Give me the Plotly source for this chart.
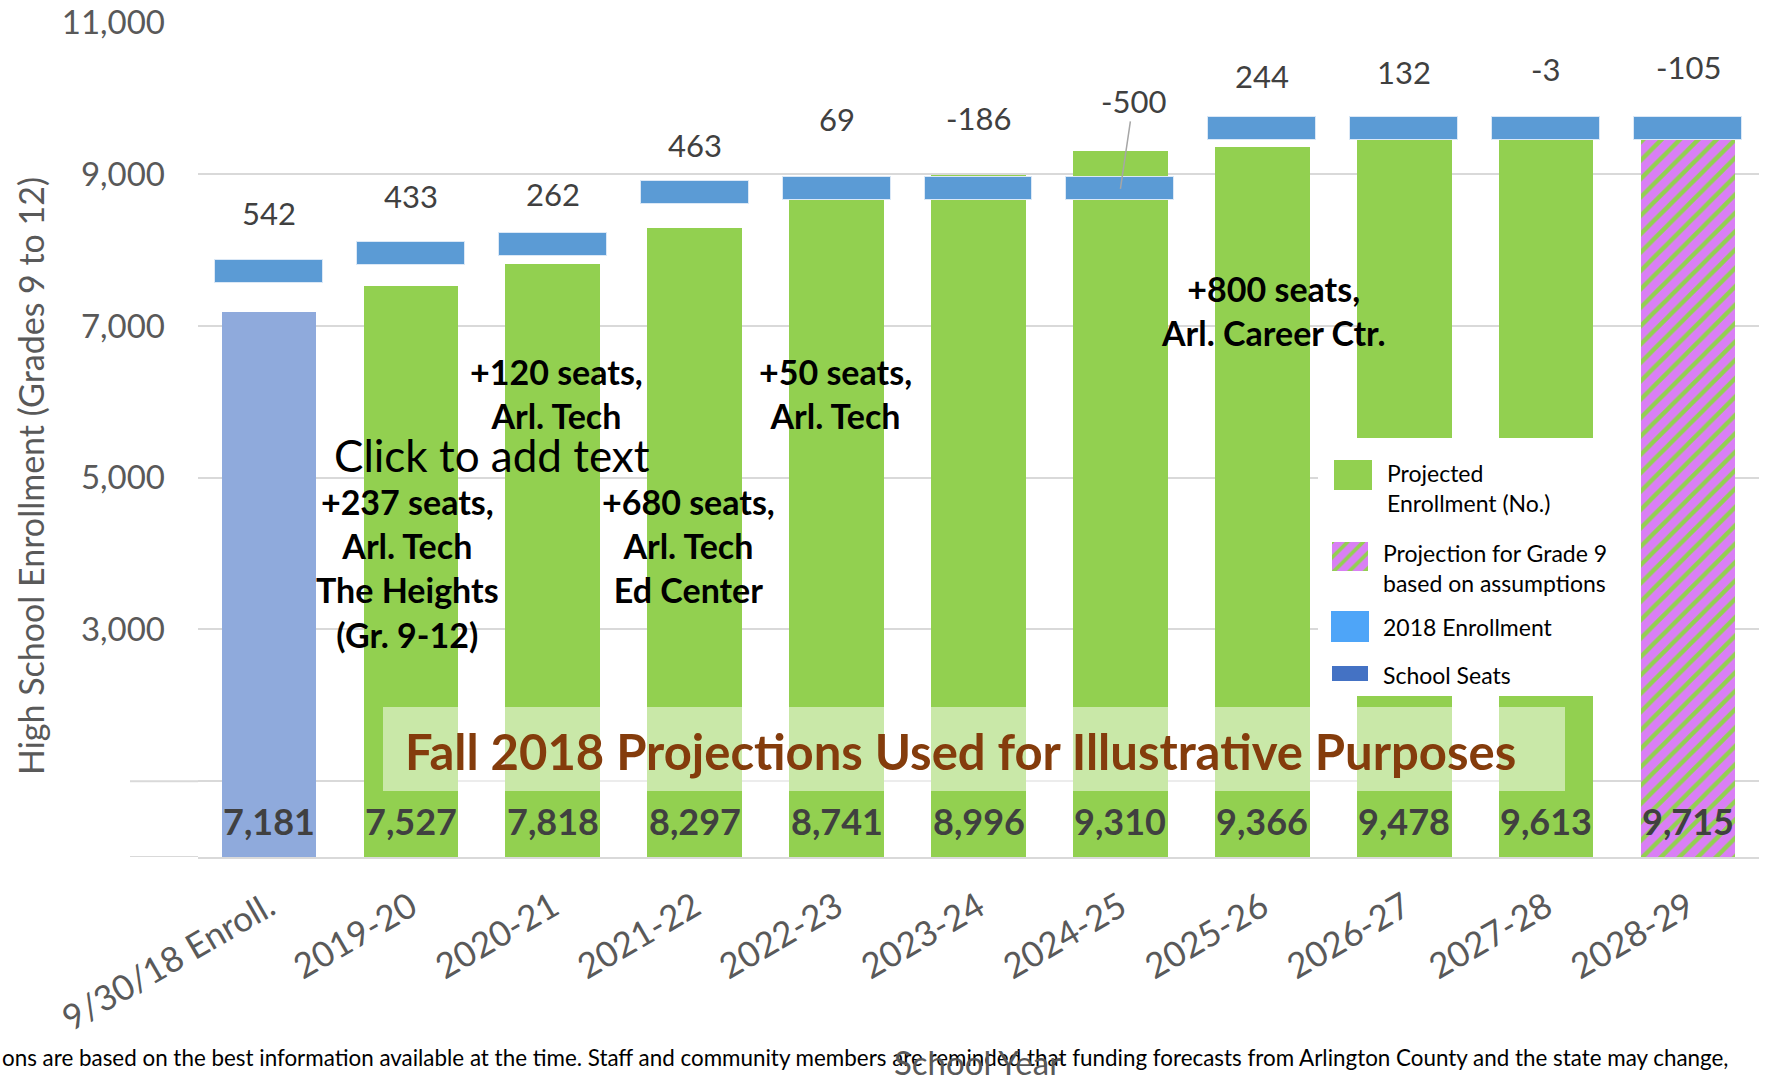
import plotly.graph_objects as go

# ---------------- data ----------------
categories = ["9/30/18 Enroll.", "2019-20", "2020-21", "2021-22", "2022-23", "2023-24",
              "2024-25", "2025-26", "2026-27", "2027-28", "2028-29"]
enrollment = [7181, 7527, 7818, 8297, 8741, 8996, 9310, 9366, 9478, 9613, 9715]
seat_gap = [542, 433, 262, 463, 69, -186, -500, 244, 132, -3, -105]
y_tick_vals = [1000, 3000, 5000, 7000, 9000, 11000]
y_tick_text = ["", "3,000", "5,000", "7,000", "9,000", "11,000"]

seats = [e + g for e, g in zip(enrollment, seat_gap)]

# ---------------- style ----------------
FONT = "Lato"
GREEN = "#92d050"
ENR_BLUE = "#8faadc"
SEAT_BLUE = "#5b9bd5"
PURPLE = "#d97ff5"
GRAY = "#595959"
DARK = "#404040"
GRID = "#d9d9d9"
SEAT_BAND = 300           # visual thickness of the seat marker bar (axis units)
label_shift = [58, 57, 50, 48, 70, 71, None, 52, 56, 59, 61]

W, H = 1765, 1076
ML, MR, MT, MB = 198, 6, 22, 219
PW = W - ML - MR
PH = H - MT - MB
PB = H - MB


def px(x):
    return (x - ML) / PW


def py(y):
    return (PB - y) / PH


fig = go.Figure()

# enrollment bars
fig.add_trace(go.Bar(x=categories[:1], y=enrollment[:1], width=0.667,
                     marker=dict(color=ENR_BLUE, line=dict(width=0)),
                     name="2018 Enrollment", showlegend=False))
fig.add_trace(go.Bar(x=categories[1:10], y=enrollment[1:10], width=0.667,
                     marker=dict(color=GREEN, line=dict(width=0)),
                     name="Projected Enrollment (No.)", showlegend=False))
fig.add_trace(go.Bar(x=categories[10:], y=enrollment[10:], width=0.667,
                     marker=dict(color=PURPLE, line=dict(width=0),
                                 pattern=dict(shape="/", fgcolor=GREEN, bgcolor=PURPLE,
                                              size=13, solidity=0.33, fillmode="replace")),
                     name="Projection for Grade 9 based on assumptions", showlegend=False))
# school seats markers
fig.add_trace(go.Bar(x=categories, y=[SEAT_BAND] * len(seats),
                     base=[s - SEAT_BAND / 2 for s in seats], width=0.76,
                     marker=dict(color=SEAT_BLUE, line=dict(color="#dbe8f6", width=1)),
                     name="School Seats", showlegend=False))

# white legend box (own overlay subplot so the hatched swatch can sit above it)
fig.add_trace(go.Bar(x=[0.5], y=[1], width=[1], xaxis="x2", yaxis="y2",
                     marker=dict(color="white", line=dict(width=0)),
                     showlegend=False, hoverinfo="skip"))
fig.add_trace(go.Bar(x=[0.5], y=[1], width=[1], xaxis="x3", yaxis="y3",
                     marker=dict(color=PURPLE, line=dict(width=0),
                                 pattern=dict(shape="/", fgcolor=GREEN, bgcolor=PURPLE,
                                              size=11, solidity=0.33, fillmode="replace")),
                     showlegend=False, hoverinfo="skip"))

annotations = []

# seat difference labels
for i, (c, s, g) in enumerate(zip(categories, seats, seat_gap)):
    if label_shift[i] is None:
        annotations.append(dict(x=c, y=s, xref="x", yref="y", text=str(g),
                                showarrow=True, arrowhead=0, arrowwidth=1.5,
                                arrowcolor="#a6a6a6", ax=13, ay=-88, standoff=0,
                                font=dict(family=FONT, size=31, color=DARK)))
    else:
        annotations.append(dict(x=c, y=s, xref="x", yref="y", text=str(g),
                                showarrow=False, yanchor="middle", yshift=label_shift[i],
                                font=dict(family=FONT, size=31, color=DARK)))

# enrollment value labels at bar base
for c, e in zip(categories, enrollment):
    annotations.append(dict(x=c, y=0, xref="x", yref="y", text=f"<b>{e:,}</b>",
                            showarrow=False, yanchor="middle", yshift=36,
                            font=dict(family=FONT, size=36, color=DARK)))

# free text boxes
def txt(text, x, y, size, color="black", bold=False, xanchor="center", yanchor="middle", **kw):
    t = f"<b>{text}</b>" if bold else text
    annotations.append(dict(x=px(x), y=py(y), xref="paper", yref="paper", text=t,
                            showarrow=False, xanchor=xanchor, yanchor=yanchor, align="center",
                            font=dict(family=FONT, size=size, color=color), **kw))


txt("+237 seats,<br>Arl. Tech<br>The Heights<br>(Gr. 9-12)", 407, 568, 34, bold=True)
txt("+120 seats,<br>Arl. Tech", 556, 393, 34, bold=True)
txt("+680 seats,<br>Arl. Tech<br>Ed Center", 688, 546, 34, bold=True)
txt("+50 seats,<br>Arl. Tech", 835, 393, 34, bold=True)
txt("+800 seats,<br>Arl. Career Ctr.", 1273, 310, 34, bold=True)
txt("Click to add text", 492, 455, 44)
txt("Fall 2018 Projections Used for Illustrative Purposes", 960, 751, 49, color="#843c0c", bold=True)

# legend texts
def ltxt(text, x, y):
    annotations.append(dict(x=px(x), y=py(y), xref="paper", yref="paper", text=text,
                            showarrow=False, xanchor="left", yanchor="middle", align="left",
                            font=dict(family=FONT, size=23, color="black")))


ltxt("Projected<br>Enrollment (No.)", 1385, 488)
ltxt("Projection for Grade 9<br>based on assumptions", 1381, 568)
ltxt("2018 Enrollment", 1381, 627)
ltxt("School Seats", 1381, 675)

# axis titles and footer
annotations.append(dict(x=px(0), y=py(1057), xref="paper", yref="paper",
                        text="ons are based on the best information available at the time. Staff and community members are reminded that funding forecasts from Arlington County and the state may change,",
                        showarrow=False, xanchor="left", yanchor="middle",
                        font=dict(family=FONT, size=22.4, color="black")))
annotations.append(dict(x=px(31), y=py(476), xref="paper", yref="paper",
                        text="High School Enrollment (Grades 9 to 12)", textangle=-90,
                        showarrow=False, xanchor="center", yanchor="middle",
                        font=dict(family=FONT, size=34, color=GRAY)))
annotations.append(dict(x=px(977), y=py(1040), xref="paper", yref="paper",
                        text="School Year", showarrow=False, xanchor="center", yanchor="top",
                        font=dict(family=FONT, size=33, color=GRAY)))

shapes = [
    # banner translucent box
    dict(type="rect", xref="paper", yref="paper", x0=px(383), x1=px(1565), y0=py(791), y1=py(707),
         fillcolor="rgba(255,255,255,0.5)", line=dict(width=0), layer="above"),
    # legend swatches
    dict(type="rect", xref="paper", yref="paper", x0=px(1334), x1=px(1372), y0=py(490), y1=py(460),
         fillcolor=GREEN, line=dict(width=0), layer="above"),
    dict(type="rect", xref="paper", yref="paper", x0=px(1331), x1=px(1369), y0=py(642), y1=py(611),
         fillcolor="#4ea5f8", line=dict(width=0), layer="above"),
    dict(type="rect", xref="paper", yref="paper", x0=px(1332), x1=px(1368), y0=py(681), y1=py(666),
         fillcolor="#4472c4", line=dict(width=0), layer="above"),
    # left extensions of the lower grid/axis lines
    dict(type="line", xref="paper", yref="y", x0=px(130), x1=0, y0=1000, y1=1000,
         line=dict(color=GRID, width=2), layer="below"),
    dict(type="line", xref="paper", yref="y", x0=px(130), x1=0, y0=0, y1=0,
         line=dict(color=GRID, width=2), layer="below"),
]

fig.update_layout(
    width=W, height=H,
    margin=dict(l=ML, r=MR, t=MT, b=MB, pad=0),
    paper_bgcolor="white", plot_bgcolor="white",
    barmode="overlay", bargap=0,
    showlegend=False,
    font=dict(family=FONT, color=GRAY),
    xaxis=dict(type="category", categoryorder="array", categoryarray=categories,
               showgrid=False, showline=True, linecolor=GRID, linewidth=2,
               tickangle=-30, ticks="", ticklabelstandoff=14,
               tickfont=dict(family=FONT, size=35, color=GRAY), automargin=False,
               fixedrange=True),
    yaxis=dict(range=[0, 11010], tickvals=y_tick_vals, ticktext=y_tick_text,
               showgrid=True, gridcolor=GRID, gridwidth=2, zeroline=False,
               ticks="", ticklabelstandoff=32,
               tickfont=dict(family=FONT, size=33, color=GRAY), automargin=False,
               fixedrange=True),
    xaxis2=dict(domain=[px(1318), px(1641)], range=[0, 1], visible=False, anchor="y2",
                fixedrange=True),
    yaxis2=dict(domain=[py(696), py(438)], range=[0, 1], visible=False, anchor="x2",
                fixedrange=True),
    xaxis3=dict(domain=[px(1332), px(1368)], range=[0, 1], visible=False, anchor="y3",
                fixedrange=True),
    yaxis3=dict(domain=[py(571), py(542)], range=[0, 1], visible=False, anchor="x3",
                fixedrange=True),
    annotations=annotations,
    shapes=shapes,
)

fig.write_html("out.html", config={"displayModeBar": False},
               post_script="document.body.style.margin='0';document.body.style.overflow='hidden';")
